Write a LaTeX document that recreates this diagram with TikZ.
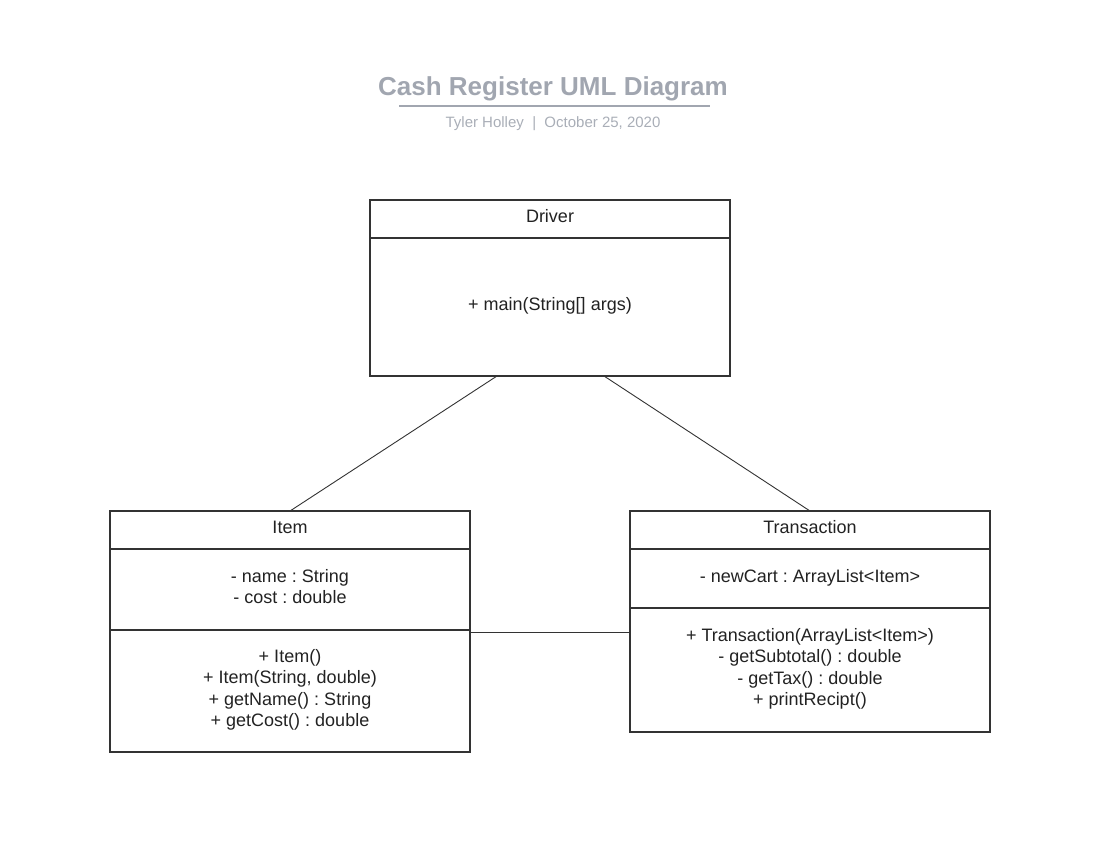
\documentclass[tikz,border=0pt]{standalone}
\usepackage{fontspec}
\setmainfont{Liberation Sans}
\frenchspacing
\usetikzlibrary{positioning, calc}
\definecolor{titlegray}{HTML}{A1A6B0}
\definecolor{subgray}{HTML}{A9AEB7}
\definecolor{boxline}{HTML}{333333}
\definecolor{ink}{HTML}{222222}

\begin{document}
\begin{tikzpicture}[
    x=1pt, y=-1pt,
    compart/.style={draw=boxline, line width=1.8pt, minimum width=360pt, minimum height=#1, inner sep=0pt, outer sep=0pt,
        font=\fontsize{18}{21.5}\selectfont, text=ink, align=center, text depth=6pt},
    link/.style={draw=boxline, line width=0.9pt},
]
\useasboundingbox (0,0) rectangle (1098,852);

% Title
\node[font=\fontsize{26}{30}\selectfont\bfseries, text=titlegray] (title) at (553,89) {Cash Register UML Diagram};
\draw[titlegray, line width=1.8pt] (399,106) -- (710,106);
\node[font=\fontsize{15}{18}\selectfont, text=subgray] (subtitle) at (553,124) {Tyler Holley\ \ |\ \ October 25, 2020};

% Driver
\node[compart=38pt] (driverHead) at (550,219) {Driver};
\node[compart=138pt, below=0pt of driverHead] (driverOps) {+ main(String[] args)};

% Item
\node[compart=38pt] (itemHead) at (290,530) {Item};
\node[compart=81pt, below=0pt of itemHead] (itemAttr) {- name : String\\- cost : double};
\node[compart=122pt, below=0pt of itemAttr] (itemOps) {+ Item()\\+ Item(String, double)\\+ getName() : String\\+ getCost() : double};

% Transaction
\node[compart=38pt] (transHead) at (810,530) {Transaction};
\node[compart=59pt, below=0pt of transHead] (transAttr) {- newCart : ArrayList<Item>};
\node[compart=124pt, below=0pt of transAttr] (transOps) {+ Transaction(ArrayList<Item>)\\- getSubtotal() : double\\- getTax() : double\\+ printRecipt()};

% Associations
\draw[link] ([xshift=-53pt]driverOps.south) -- (itemHead.north);
\draw[link] ([xshift=54pt]driverOps.south) -- (transHead.north);
\draw[link] ([yshift=-2pt]itemOps.north east) -- ([yshift=-2pt]itemOps.north east -| transOps.west);

\end{tikzpicture}
\end{document}
